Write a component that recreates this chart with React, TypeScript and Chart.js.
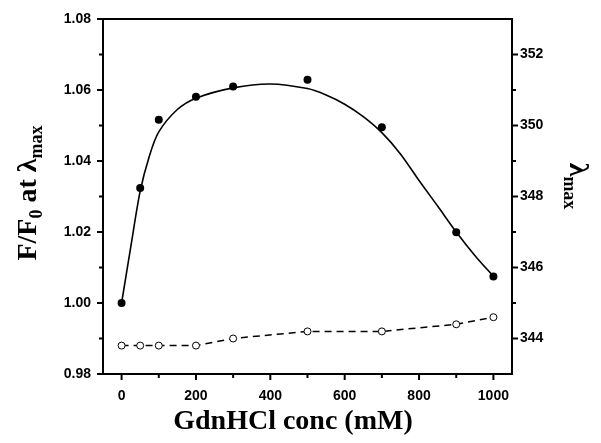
import { useEffect, useRef } from 'react';
import { Chart, registerables } from 'chart.js';

Chart.register(...registerables);

// Fluorescence ratio F/F0 (filled circles, left axis)
const concFilled = [0, 50, 100, 200, 300, 500, 700, 900, 1000];
const fRatio = [1.0, 1.0324, 1.0516, 1.0581, 1.061, 1.0629, 1.0495, 1.0199, 1.0075];

// Fitted curve (solid line)
const fitConc = [0, 25, 50, 75, 100, 150, 200, 300, 400, 500, 550, 600, 650, 700, 750, 800, 850, 900, 950, 1000];
const fitRatio = [1.0, 1.016, 1.0315, 1.0415, 1.0482, 1.0545, 1.0577, 1.0606, 1.0617, 1.0604, 1.0586, 1.056, 1.0525, 1.048, 1.042, 1.0345, 1.0273, 1.02, 1.0134, 1.0075];

// Lambda max (open circles, right axis)
const concOpen = [0, 50, 100, 200, 300, 500, 700, 900, 1000];
const lambdaMax = [343.8, 343.8, 343.8, 343.8, 344.0, 344.2, 344.2, 344.4, 344.6];

// Ticks
const xTicks = [0, 200, 400, 600, 800, 1000];
const xMinor = [100, 300, 500, 700, 900];
const leftTicks = [0.98, 1.0, 1.02, 1.04, 1.06, 1.08];
const leftMinor = [0.99, 1.01, 1.03, 1.05, 1.07];
const rightTicks = [344, 346, 348, 350, 352];
const rightMinor = [345, 347, 349, 351];

const SERIF = '"Liberation Serif", "Times New Roman", serif';
const SANS = '"Liberation Sans", Arial, sans-serif';

type Part = { t: string; sub?: boolean };

function drawRich(ctx: CanvasRenderingContext2D, parts: Part[], x: number, y: number, rot: number, main: number, sub: number, subShift: number) {
  ctx.save();
  ctx.translate(x, y);
  ctx.rotate(rot);
  ctx.fillStyle = '#000';
  ctx.textBaseline = 'alphabetic';
  ctx.textAlign = 'left';
  const widths = parts.map((p) => {
    ctx.font = `bold ${p.sub ? sub : main}px ${SERIF}`;
    return ctx.measureText(p.t).width;
  });
  const total = widths.reduce((a, b) => a + b, 0);
  let cx = -total / 2;
  parts.forEach((p, i) => {
    ctx.font = `bold ${p.sub ? sub : main}px ${SERIF}`;
    ctx.fillText(p.t, cx, p.sub ? subShift : 0);
    cx += widths[i];
  });
  ctx.restore();
}

const decorPlugin = {
  id: 'decor',
  afterDraw(chart: any) {
    const ctx: CanvasRenderingContext2D = chart.ctx;
    const { left, right, top, bottom } = chart.chartArea;
    const xs = chart.scales.x;
    const yl = chart.scales.y;
    const yr = chart.scales.y1;
    ctx.save();
    ctx.strokeStyle = '#000';
    ctx.lineWidth = 2;
    ctx.strokeRect(left, top, right - left, bottom - top);
    ctx.lineCap = 'butt';
    const seg = (x1: number, y1: number, x2: number, y2: number) => {
      ctx.beginPath();
      ctx.moveTo(x1, y1);
      ctx.lineTo(x2, y2);
      ctx.stroke();
    };
    xTicks.forEach((v) => { const p = xs.getPixelForValue(v); seg(p, bottom, p, bottom + 6); });
    xMinor.forEach((v) => { const p = xs.getPixelForValue(v); seg(p, bottom, p, bottom + 4); });
    leftTicks.forEach((v) => { const p = yl.getPixelForValue(v); seg(left, p, left - 6, p); });
    leftMinor.forEach((v) => { const p = yl.getPixelForValue(v); seg(left, p, left - 4, p); });
    rightTicks.forEach((v) => { const p = yr.getPixelForValue(v); seg(right, p, right + 6, p); });
    rightMinor.forEach((v) => { const p = yr.getPixelForValue(v); seg(right, p, right + 4, p); });
    ctx.restore();

    drawRich(ctx, [{ t: 'F/F' }, { t: '0', sub: true }, { t: ' at ' }, { t: 'λ' }, { t: 'max', sub: true }], 36, 193, -Math.PI / 2, 28, 18, 6);
    drawRich(ctx, [{ t: 'λ' }, { t: 'max', sub: true }], 570, 186, Math.PI / 2, 28, 18, 6);
    drawRich(ctx, [{ t: 'GdnHCl conc (mM)' }], 293, 429, 0, 28, 18, 0);
  },
};

export default function App() {
  const ref = useRef<HTMLCanvasElement | null>(null);
  useEffect(() => {
    document.body.style.margin = '0';
    const tickFont = { family: SANS, size: 14, weight: 'bold' as const };
    const chart = new Chart(ref.current as HTMLCanvasElement, {
      type: 'line',
      data: {
        datasets: [
          {
            label: 'F/F0',
            data: concFilled.map((x, i) => ({ x, y: fRatio[i] })),
            showLine: false,
            pointRadius: 4,
            pointBackgroundColor: '#000',
            pointBorderColor: '#000',
            pointBorderWidth: 0,
            yAxisID: 'y',
          },
          {
            label: 'lambda max',
            data: concOpen.map((x, i) => ({ x, y: lambdaMax[i] })),
            borderColor: '#000',
            borderWidth: 1.5,
            borderDash: [7, 5],
            pointRadius: 3.5,
            pointBackgroundColor: '#fff',
            pointBorderColor: '#000',
            pointBorderWidth: 1,
            tension: 0,
            yAxisID: 'y1',
          },
          {
            label: 'fit',
            data: fitConc.map((x, i) => ({ x, y: fitRatio[i] })),
            borderColor: '#000',
            borderWidth: 1.6,
            pointRadius: 0,
            tension: 0.3,
            yAxisID: 'y',
          },
        ],
      },
      options: {
        animation: false,
        responsive: false,
        devicePixelRatio: 1,
        layout: { padding: { top: 19, left: 0, right: 0, bottom: 0 } },
        plugins: { legend: { display: false }, tooltip: { enabled: false }, title: { display: false } },
        scales: {
          x: {
            type: 'linear',
            min: -50,
            max: 1050,
            afterBuildTicks: (s: any) => { s.ticks = xTicks.map((v) => ({ value: v })); },
            afterFit: (s: any) => { s.height = 69; },
            grid: { display: false },
            border: { display: false },
            ticks: { color: '#000', font: tickFont, padding: 6, maxRotation: 0, callback: (v: any) => String(v) },
          },
          y: {
            type: 'linear',
            position: 'left',
            min: 0.98,
            max: 1.08,
            afterBuildTicks: (s: any) => { s.ticks = leftTicks.map((v) => ({ value: v })); },
            afterFit: (s: any) => { s.width = 103; },
            grid: { display: false },
            border: { display: false },
            ticks: { color: '#000', font: tickFont, padding: 4, callback: (v: any) => Number(v).toFixed(2) },
          },
          y1: {
            type: 'linear',
            position: 'right',
            min: 343,
            max: 353,
            afterBuildTicks: (s: any) => { s.ticks = rightTicks.map((v) => ({ value: v })); },
            afterFit: (s: any) => { s.width = 89; },
            grid: { display: false },
            border: { display: false },
            ticks: { color: '#000', font: tickFont, padding: 0, callback: (v: any) => String(v) },
          },
        },
      },
      plugins: [decorPlugin],
    } as any);
    return () => chart.destroy();
  }, []);
  return <canvas ref={ref} width={601} height={443} style={{ display: 'block', width: 601, height: 443 }} />;
}
